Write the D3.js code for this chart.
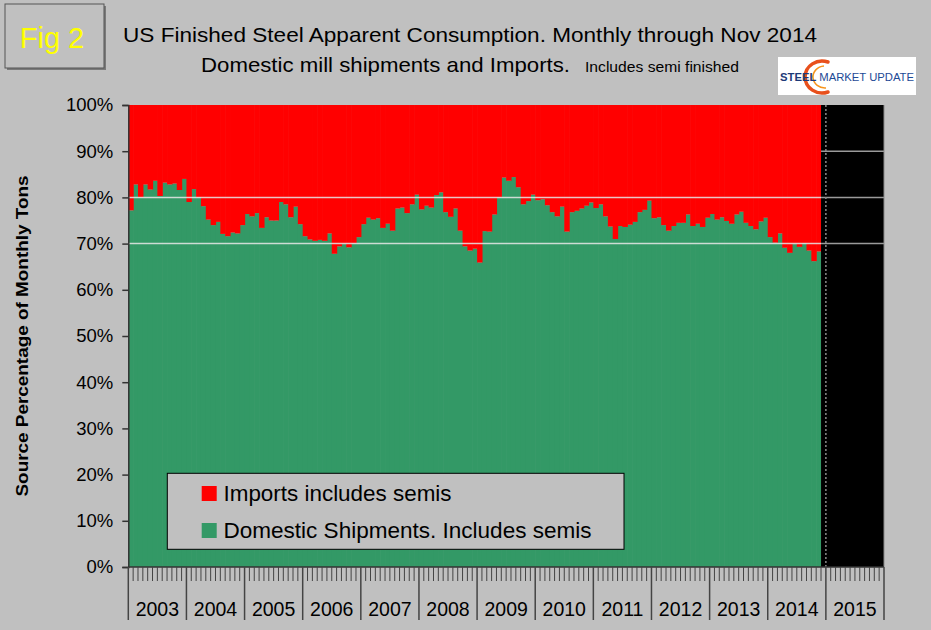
<!DOCTYPE html>
<html>
<head>
<meta charset="utf-8">
<script src="https://cdn.jsdelivr.net/npm/d3@7"></script>
<style>
  html, body { margin: 0; padding: 0; background: #c0c0c0; }
  svg { display: block; font-family: "Liberation Sans", Arial, sans-serif; }
</style>
</head>
<body>
<svg id="chart" width="931" height="630"></svg>
<script>
// ---------- data ----------
const years = ["2003","2004","2005","2006","2007","2008","2009","2010","2011","2012","2013","2014","2015"];
const monthNames = ["Jan","Feb","Mar","Apr","May","Jun","Jul","Aug","Sep","Oct","Nov","Dec"];
const yTicks = [0,10,20,30,40,50,60,70,80,90,100];
const seriesNames = ["Imports includes semis", "Domestic Shipments. Includes semis"];
// Domestic share of apparent consumption (%), Jan 2003 - Nov 2014
const domestic2003 = [77.2, 82.8, 80.0, 82.8, 81.7, 83.6, 80.3, 83.2, 82.8, 83.0, 81.6, 84.0];
const domestic2004 = [79.0, 81.8, 80.0, 78.1, 75.2, 74.0, 74.7, 72.1, 71.6, 72.4, 72.2, 74.0];
const domestic2005 = [76.4, 75.9, 76.6, 73.4, 75.7, 75.0, 75.0, 79.0, 78.5, 75.7, 78.0, 74.2];
const domestic2006 = [71.6, 70.9, 70.6, 70.8, 70.6, 72.2, 67.8, 69.4, 69.9, 69.2, 70.0, 71.4];
const domestic2007 = [74.2, 75.6, 75.2, 75.5, 73.4, 74.3, 72.8, 77.6, 77.8, 76.6, 78.5, 80.6];
const domestic2008 = [77.4, 78.2, 77.8, 80.5, 81.1, 76.8, 75.8, 77.6, 72.8, 69.4, 68.5, 68.9];
const domestic2009 = [65.9, 72.7, 72.6, 76.3, 80.0, 84.3, 83.6, 84.4, 82.2, 78.5, 79.2, 80.6];
const domestic2010 = [79.4, 79.6, 78.3, 76.8, 75.9, 78.0, 72.6, 76.8, 77.1, 77.6, 78.2, 78.9];
const domestic2011 = [77.7, 78.5, 75.9, 73.7, 71.0, 73.8, 73.6, 74.1, 74.7, 76.8, 77.3, 79.3];
const domestic2012 = [75.5, 75.7, 74.0, 72.8, 73.8, 74.5, 74.5, 76.3, 73.8, 74.3, 73.6, 75.6];
const domestic2013 = [76.4, 75.2, 75.7, 74.9, 74.3, 76.3, 76.9, 74.5, 73.8, 73.1, 74.8, 75.6];
const domestic2014 = [71.4, 70.2, 72.2, 69.1, 68.0, 69.9, 69.3, 70.1, 68.5, 66.2, 68.3];

const domesticAll = [].concat(domestic2003, domestic2004, domestic2005, domestic2006, domestic2007,
  domestic2008, domestic2009, domestic2010, domestic2011, domestic2012, domestic2013, domestic2014);

// ---------- build table ----------
const monthKeys = [];
years.forEach(y => monthNames.forEach(m => monthKeys.push(y + "-" + m)));
const table = domesticAll.map((d, i) => ({ key: monthKeys[i], domestic: d, imports: 100 - d }));

// ---------- layout ----------
const svg = d3.select("#chart");
const L = 128.3, R = 884, T = 105, B = 567;
const x = d3.scaleBand().domain(monthKeys).range([L, R]).paddingInner(0).paddingOuter(0);
const y = d3.scaleLinear().domain([0, 100]).range([B, T]);
const colors = { imports: "#ff0000", domestic: "#339966" };

svg.append("rect").attr("width", 931).attr("height", 630).attr("fill", "#c0c0c0");

// black (no data) region
const firstEmpty = monthKeys[table.length];
const xEmpty = x(firstEmpty);
svg.append("rect").attr("x", xEmpty).attr("y", T).attr("width", R - xEmpty).attr("height", B - T).attr("fill", "#000");
[70, 80, 90].forEach(v => {
  svg.append("line").attr("x1", xEmpty).attr("x2", R).attr("y1", y(v)).attr("y2", y(v))
    .attr("stroke", "#9a9a9a").attr("stroke-width", 1.5);
});

// stacked bars
const stack = d3.stack().keys(["domestic", "imports"]);
const layers = stack(table);
svg.append("g").selectAll("g").data(layers).join("g")
  .attr("fill", d => colors[d.key])
  .selectAll("rect").data(d => d).join("rect")
  .attr("x", d => x(d.data.key))
  .attr("width", (d, i) => i === table.length - 1 ? x.bandwidth() : x.bandwidth() + 0.6)
  .attr("y", d => y(d[1]))
  .attr("height", d => y(d[0]) - y(d[1]));

// light gridlines over colored region
[70, 80].forEach(v => {
  svg.append("line").attr("x1", L).attr("x2", xEmpty).attr("y1", y(v)).attr("y2", y(v))
    .attr("stroke", "#e8e8e8").attr("stroke-width", 1.5).attr("opacity", 0.85);
});

// dotted line at 2015 start
svg.append("line").attr("x1", x("2015-Jan")).attr("x2", x("2015-Jan")).attr("y1", T).attr("y2", B)
  .attr("stroke", "#8a8a8a").attr("stroke-width", 1.5).attr("stroke-dasharray", "2,2");

// right border
svg.append("line").attr("x1", R).attr("x2", R).attr("y1", T).attr("y2", B).attr("stroke", "#8a8a8a").attr("stroke-width", 1);

// y axis
const yAxis = svg.append("g").attr("transform", `translate(${L},0)`)
  .call(d3.axisLeft(y).tickValues(yTicks).tickFormat(d => d + "%").tickSize(6).tickPadding(9));
yAxis.select(".domain").attr("stroke", "#333").attr("stroke-width", 1.5);
yAxis.selectAll(".tick line").attr("stroke", "#333").attr("stroke-width", 1.5);
yAxis.selectAll("text").attr("font-size", "18.5px").attr("fill", "#000")
  .attr("font-family", "Liberation Sans, Arial, sans-serif");

// x axis: month ticks + year separators
const xg = svg.append("g");
xg.append("line").attr("x1", L).attr("x2", R).attr("y1", B).attr("y2", B).attr("stroke", "#333").attr("stroke-width", 1.5);
xg.selectAll("line.m").data(monthKeys.filter(k => !k.endsWith("-Jan"))).join("line")
  .attr("class", "m")
  .attr("x1", d => x(d)).attr("x2", d => x(d)).attr("y1", B).attr("y2", B + 14)
  .attr("stroke", "#444").attr("stroke-width", 1);
const yearEdges = years.map(yr => x(yr + "-Jan")).concat([R]);
xg.selectAll("line.y").data(yearEdges).join("line")
  .attr("class", "y")
  .attr("x1", d => d).attr("x2", d => d).attr("y1", B).attr("y2", 620)
  .attr("stroke", "#444").attr("stroke-width", 1.5);
xg.selectAll("text").data(years).join("text")
  .attr("x", yr => x(yr + "-Jan") + 6 * x.bandwidth())
  .attr("y", 615.5)
  .attr("text-anchor", "middle")
  .attr("font-size", "19.5px")
  .attr("fill", "#000")
  .text(d => d);

// y axis title
svg.append("text")
  .attr("transform", "translate(28,336) rotate(-90)")
  .attr("text-anchor", "middle")
  .attr("font-size", "16px").attr("font-weight", "bold").attr("fill", "#000")
  .attr("textLength", 321).attr("lengthAdjust", "spacingAndGlyphs")
  .text("Source Percentage of Monthly Tons");

// legend
const lg = svg.append("g");
lg.append("rect").attr("x", 167.3).attr("y", 473.3).attr("width", 456.7).attr("height", 76)
  .attr("fill", "#c0c0c0").attr("stroke", "#000").attr("stroke-width", 1);
const legendItems = [
  { name: seriesNames[0], color: colors.imports, len: 228 },
  { name: seriesNames[1], color: colors.domestic, len: 368 }
];
lg.selectAll("g").data(legendItems).join("g")
  .attr("transform", (d, i) => `translate(0,${i * 37})`)
  .each(function(d) {
    const g = d3.select(this);
    g.append("rect").attr("x", 201.7).attr("y", 486).attr("width", 15).attr("height", 15).attr("fill", d.color);
    g.append("text").attr("x", 223.5).attr("y", 501).attr("font-size", "21.5px").attr("fill", "#000")
      .attr("textLength", d.len).attr("lengthAdjust", "spacingAndGlyphs").text(d.name);
  });

// titles
svg.append("text").attr("x", 123).attr("y", 42).attr("font-size", "21px").attr("fill", "#000")
  .attr("textLength", 694).attr("lengthAdjust", "spacingAndGlyphs")
  .text("US Finished Steel Apparent Consumption. Monthly through Nov 2014");
svg.append("text").attr("x", 201).attr("y", 72).attr("font-size", "21px").attr("fill", "#000")
  .attr("textLength", 369).attr("lengthAdjust", "spacingAndGlyphs")
  .text("Domestic mill shipments and Imports.");
svg.append("text").attr("x", 585).attr("y", 72).attr("font-size", "14px").attr("fill", "#000")
  .attr("textLength", 154).attr("lengthAdjust", "spacingAndGlyphs")
  .text("Includes semi finished");

// Fig 2 box
svg.append("rect").attr("x", 7).attr("y", 6).attr("width", 99).attr("height", 64).attr("fill", "#7a7a7a");
svg.append("rect").attr("x", 5).attr("y", 4).attr("width", 99).attr("height", 64)
  .attr("fill", "#c0c0c0").attr("stroke", "#555").attr("stroke-width", 1);
svg.append("text").attr("x", 52).attr("y", 48).attr("text-anchor", "middle")
  .attr("font-size", "29px").attr("fill", "#ffff00").text("Fig 2");

// logo
const logo = svg.append("g");
logo.append("rect").attr("x", 778).attr("y", 57).attr("width", 138).attr("height", 38).attr("fill", "#fff");
logo.append("path").attr("d", "M 828 62 A 17 16 0 1 0 828 92")
  .attr("fill", "none").attr("stroke", "#e8501c").attr("stroke-width", 3.5).attr("stroke-linecap", "round");
logo.append("path").attr("d", "M 824 66 A 12 11 0 1 0 826 88")
  .attr("fill", "none").attr("stroke", "#f7941d").attr("stroke-width", 1.5);
const lt = logo.append("text").attr("x", 780).attr("y", 80.5).attr("font-size", "10.5px")
  .attr("textLength", 134).attr("lengthAdjust", "spacingAndGlyphs");
lt.append("tspan").attr("font-weight", "bold").attr("fill", "#1d3a78").text("STEEL ");
lt.append("tspan").attr("fill", "#1d4a96").text("MARKET UPDATE");
</script>
</body>
</html>
